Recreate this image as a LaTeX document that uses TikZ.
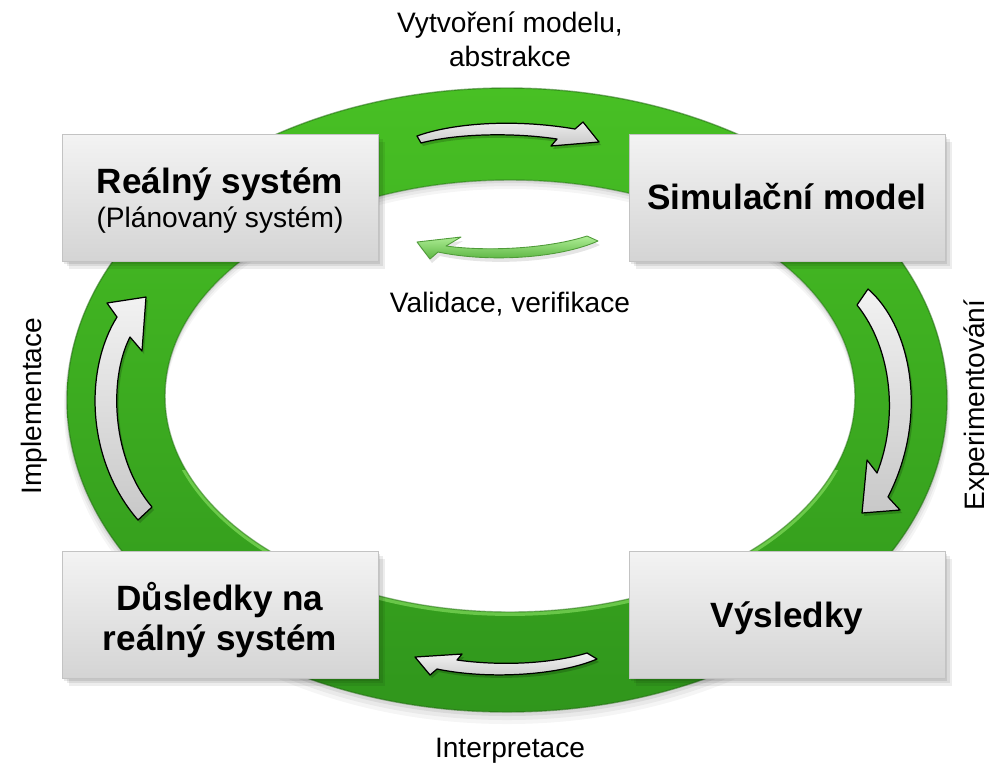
\documentclass[tikz,border=0pt]{standalone}
\usepackage{fontspec}
\setmainfont{Liberation Sans}

\definecolor{ringtop}{RGB}{72,192,36}
\definecolor{ringbot}{RGB}{48,150,28}
\definecolor{ringedge}{RGB}{36,108,20}
\definecolor{ringglow}{RGB}{150,235,110}
\definecolor{boxtop}{RGB}{243,243,243}
\definecolor{boxbot}{RGB}{212,212,212}
\definecolor{boxedge}{RGB}{195,195,195}
\definecolor{arrtop}{RGB}{242,242,242}
\definecolor{arrbot}{RGB}{200,200,200}
\definecolor{valtop}{RGB}{175,238,150}
\definecolor{valbot}{RGB}{78,172,52}
\definecolor{valedge}{RGB}{80,155,58}

% block arrow outlines, in pixel units
\def\pathmodel{(417,136) .. controls (450,124) and (510,118) .. (575,129) -- (583,122) -- (599,142) -- (551,146) -- (557,139) .. controls (510,132) and (455,134) .. (421,143) -- cycle}
\def\pathvalid{(417,242) -- (461,237) -- (446,246) .. controls (490,252) and (550,248) .. (587,236) -- (598,241) .. controls (560,258) and (490,263) .. (438,252) -- (430,259) -- cycle}
\def\pathinterp{(415,657) -- (462,654) -- (457,660) .. controls (500,666) and (550,664) .. (587,653) -- (597,659) .. controls (560,675) and (490,680) .. (437,669) -- (430,675) -- cycle}
\def\pathexper{(857,305) -- (868,289) .. controls (910,325) and (930,415) .. (888,497) -- (900,510) -- (862,513) -- (867,460) -- (877,473) .. controls (898,420) and (893,350) .. (857,305) -- cycle}
\def\pathimpl{(138,520) -- (152,507) .. controls (112,460) and (108,380) .. (130,337) -- (142,351) -- (146,297) -- (107,303) -- (117,317) .. controls (84,370) and (86,460) .. (138,520) -- cycle}

\begin{document}
\begin{tikzpicture}[x=0.02cm,y=-0.02cm,
  stagebox/.style={rectangle, minimum width=6.32cm, minimum height=2.54cm,
    inner sep=0pt, top color=boxtop, bottom color=boxbot, draw=boxedge, line width=0.5pt,
    preaction={fill=black,opacity=.07,transform canvas={xshift=4pt,yshift=-4pt}},
    preaction={fill=black,opacity=.08,transform canvas={xshift=2.6pt,yshift=-2.6pt}},
    preaction={fill=black,opacity=.09,transform canvas={xshift=1.3pt,yshift=-1.3pt}}},
  stagetitle/.style={font=\fontsize{20}{24}\selectfont\bfseries, anchor=base, inner sep=0pt},
  stagesub/.style={font=\fontsize{16}{19}\selectfont, anchor=base, inner sep=0pt},
  steplabel/.style={font=\fontsize{16}{19}\selectfont, anchor=base, inner sep=0pt},
  grayarrow/.style={draw=black, line width=0.7pt, line join=round, top color=arrtop, bottom color=arrbot},
  validarrow/.style={draw=valedge, line width=0.5pt, line join=round, top color=valtop, bottom color=valbot},
  arrowshade/.style={fill=black, opacity=0.18}
]
\useasboundingbox (0,0) rectangle (989,762);

% soft shadow of the ring
\foreach \o/\op in {9/0.04,6/0.05,3/0.07}
  \fill[black, opacity=\op, even odd rule]
    (507,400+\o) ellipse [x radius=440+\o/3, y radius=312+\o/3]
    (510,396+\o) ellipse [x radius=345, y radius=216];

% the green cycle ring
\path[even odd rule, top color=ringtop, bottom color=ringbot]
  (507,400) ellipse [x radius=440, y radius=312]
  (510,396) ellipse [x radius=345, y radius=216];
% light rim along the lower inner edge
\begin{scope}
  \clip (60,470) rectangle (960,720);
  \draw[ringglow, opacity=0.55, line width=2.2pt] (510,397) ellipse [x radius=346, y radius=217];
\end{scope}
\draw[ringedge, opacity=0.55, line width=0.8pt] (507,400) ellipse [x radius=440, y radius=312];
\draw[ringedge, opacity=0.45, line width=0.8pt] (510,396) ellipse [x radius=345, y radius=216];

% block arrows along the ring
\foreach \p in {\pathmodel,\pathinterp,\pathexper,\pathimpl}{
  \fill[arrowshade, shift={(2,3)}] \p;
  \path[grayarrow] \p;
}
\fill[black, opacity=0.10, shift={(2,4)}] \pathvalid;
\path[validarrow] \pathvalid;

% stages
\node[stagebox] (real) at (220,198) {};
\node[stagebox] (model) at (787,198) {};
\node[stagebox] (results) at (787,615) {};
\node[stagebox] (impact) at (220,615) {};

\node[stagetitle] (real-title) at (220,193) {Reálný systém};
\node[stagesub] (real-sub) at (220,227) {(Plánovaný systém)};
\node[stagetitle] (model-title) at (787,209) {Simulační model};
\node[stagetitle] (results-title) at (787,627) {Výsledky};
\node[stagetitle] (impact-title-a) at (220,610) {Důsledky na};
\node[stagetitle] (impact-title-b) at (220,650) {reálný systém};

% step labels
\node[steplabel] (lbl-model-a) at (510,32) {Vytvoření modelu,};
\node[steplabel] (lbl-model-b) at (510,66) {abstrakce};
\node[steplabel] (lbl-valid) at (510,312) {Validace, verifikace};
\node[steplabel] (lbl-interp) at (510,757) {Interpretace};
\node[steplabel, rotate=90] (lbl-exper) at (984,405) {Experimentování};
\node[steplabel, rotate=90] (lbl-impl) at (41,406) {Implementace};
\end{tikzpicture}
\end{document}
